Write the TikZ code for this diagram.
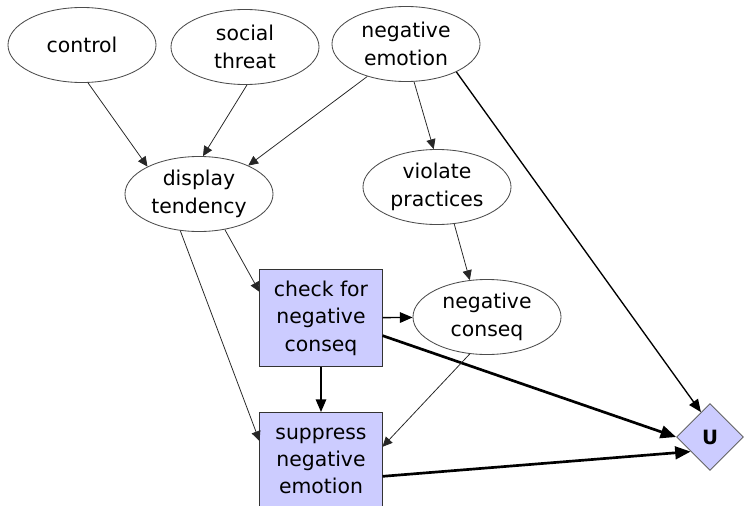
\documentclass[tikz,border=0pt]{standalone}
\usepackage{fontspec}
\setmainfont{DejaVu Sans}
\usetikzlibrary{shapes.geometric,arrows.meta}
\definecolor{nodefill}{RGB}{204,204,255}
\begin{document}
\begin{tikzpicture}[x=0.025cm,y=-0.025cm,
  font=\fontsize{14.5}{19.5}\selectfont,
  chance/.style={ellipse,draw=black!70,line width=0.6pt,inner sep=0pt,
    minimum width=3.7cm,minimum height=1.875cm,align=center},
  decision/.style={rectangle,draw=black!80,line width=0.7pt,fill=nodefill,
    minimum width=3.05cm,minimum height=2.425cm,inner sep=0pt,align=center},
  utility/.style={diamond,draw=black!60,line width=0.6pt,fill=nodefill,
    minimum width=1.675cm,minimum height=1.675cm,inner sep=0pt,
    font=\fontsize{14}{15}\selectfont\bfseries},
  link/.style={draw=black!85,line width=0.55pt,-{Triangle[length=7pt,width=6.5pt]}},
  mid/.style={draw=black,line width=0.95pt,-{Triangle[length=9pt,width=7.5pt]}},
  strong/.style={draw=black,line width=1.9pt,-{Triangle[length=11pt,width=9pt]}}]
  \useasboundingbox (0,0) rectangle (744,506);
  \node[chance] (ctrl) at (82,45) {control};
  \node[chance] (threat) at (245,47) {social\\threat};
  \node[chance] (negemo) at (406,44) {negative\\emotion};
  \node[chance] (disp) at (199,194) {display\\tendency};
  \node[chance] (viol) at (437,187) {violate\\practices};
  \node[decision] (check) at (321,318) {check for\\negative\\conseq};
  \node[chance] (negcq) at (487,317) {negative\\conseq};
  \node[decision] (supp) at (321,461) {suppress\\negative\\emotion};
  \node[utility] (U) at (710,437) {U};

  \draw[link] (ctrl.-81) -- (disp.152);
  \draw[link] (threat.-87) -- (disp.84);
  \draw[link] (negemo.-140) -- (disp.30);
  \draw[link] (negemo.-78) -- (viol.95);
  \draw[mid] (negemo.-29) -- (U.110);
  \draw[link] (disp.-54) -- (check.157);
  \draw[link] (disp.-117) -- (supp.162);
  \draw[link] (viol.-65) -- (negcq.115);
  \draw[mid] (check) -- (negcq);
  \draw[strong] (check.-16) -- (U.west);
  \draw[mid] (check) -- (supp);
  \draw[link] (negcq.-115) -- (supp.13);
  \draw[strong] (supp.-14) -- (U.-143);
\end{tikzpicture}
\end{document}
